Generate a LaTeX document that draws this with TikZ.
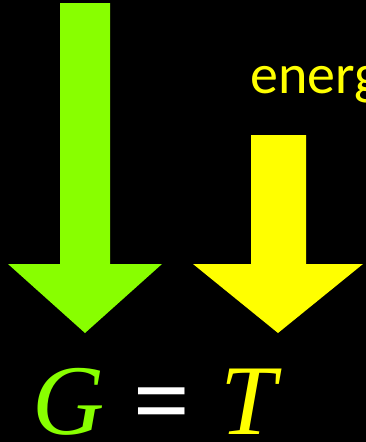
\documentclass[tikz,border=0pt]{standalone}
\usepackage{fontspec}
\setmainfont{Liberation Serif}
\newfontfamily\labelfont{Carlito}
\definecolor{arrowgreen}{HTML}{88FF00}
\definecolor{arrowyellow}{HTML}{FFFF00}
\begin{document}
\begin{tikzpicture}[x=1pt, y=-1pt]
      %% Styles
      \tikzset
      {
      bigtext/.style={inner sep=0pt, anchor=base west, font=\fontsize{100}{100}\selectfont},
      % fat arrows are drawn as plain polygons
      }
      %% Background
      \fill[black] (0,0) rectangle (366,442);
      \useasboundingbox (0,0) rectangle (366,442);
      %% Arrows
      \fill[arrowgreen] (60,3) -- (110,3) -- (110,264) -- (162,264) -- (85,333) -- (8,264) -- (60,264) -- cycle;
      \fill[arrowyellow] (251,135) -- (306,135) -- (306,264) -- (363,264) -- (278,333) -- (193,264) -- (251,264) -- cycle;
      %% Label
      \node[inner sep=0pt, anchor=base west, text=arrowyellow, font=\labelfont\fontsize{56}{56}\selectfont] (energy) at (250,93) {energ};
      %% Equation
      \node[bigtext, text=arrowgreen] (g) at (32,434) {\itshape G};
      \node[bigtext, text=white] (eq) at (133,434) {\bfseries =};
      \node[bigtext, text=arrowyellow] (t) at (220,434) {\itshape T};
\end{tikzpicture}
\end{document}
